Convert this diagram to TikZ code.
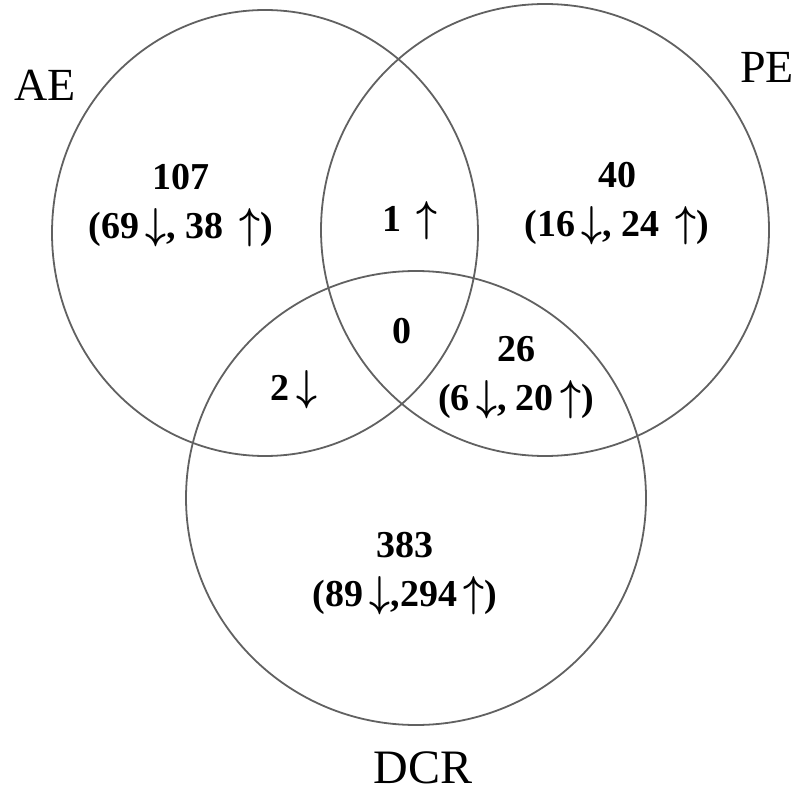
\documentclass[tikz,border=0pt]{standalone}
\usepackage{graphicx}
\usepackage{fontspec}
\setmainfont{Liberation Serif}
\newcommand{\dnarr}{\,\scalebox{1.05}[1.25]{$\downarrow$}}
\newcommand{\uparr}{\,\scalebox{1.05}[1.25]{$\uparrow$}}
\begin{document}
\begin{tikzpicture}[x=0.5pt,y=-0.5pt,
    setline/.style={draw=black!62,line width=0.9pt},
    setname/.style={font=\fontsize{23}{27}\selectfont},
    count/.style={font=\fontsize{19}{24.5}\selectfont\bfseries\boldmath,align=center,inner sep=0pt}]
  \useasboundingbox (0,0) rectangle (802,796);

  % the three sets
  \draw[setline] (265,233) ellipse [x radius=213,y radius=223];
  \draw[setline] (545,230) ellipse [x radius=224,y radius=226];
  \draw[setline] (416,498) ellipse [x radius=230,y radius=227];

  \node[setname] (ae) at (45,85) {AE};
  \node[setname] (pe) at (767,67) {PE};
  \node[setname,font=\fontsize{24}{28}\selectfont] (dcr) at (423,768) {DCR};

  % counts per region
  \node[count] (aeonly) at (181,206) {107\\(69\dnarr, 38 \uparr)};
  \node[count] (aepe) at (410,221) {1 \uparr};
  \node[count] (peonly) at (617,204) {40\\(16\dnarr, 24 \uparr)};
  \node[count] (all) at (402,331) {0};
  \node[count] (aedcr) at (294,390) {2\dnarr};
  \node[count] (pedcr) at (516,378) {26\\(6\dnarr, 20\uparr)};
  \node[count] (dcronly) at (405,574) {383\\(89\dnarr,294\uparr)};
\end{tikzpicture}
\end{document}
